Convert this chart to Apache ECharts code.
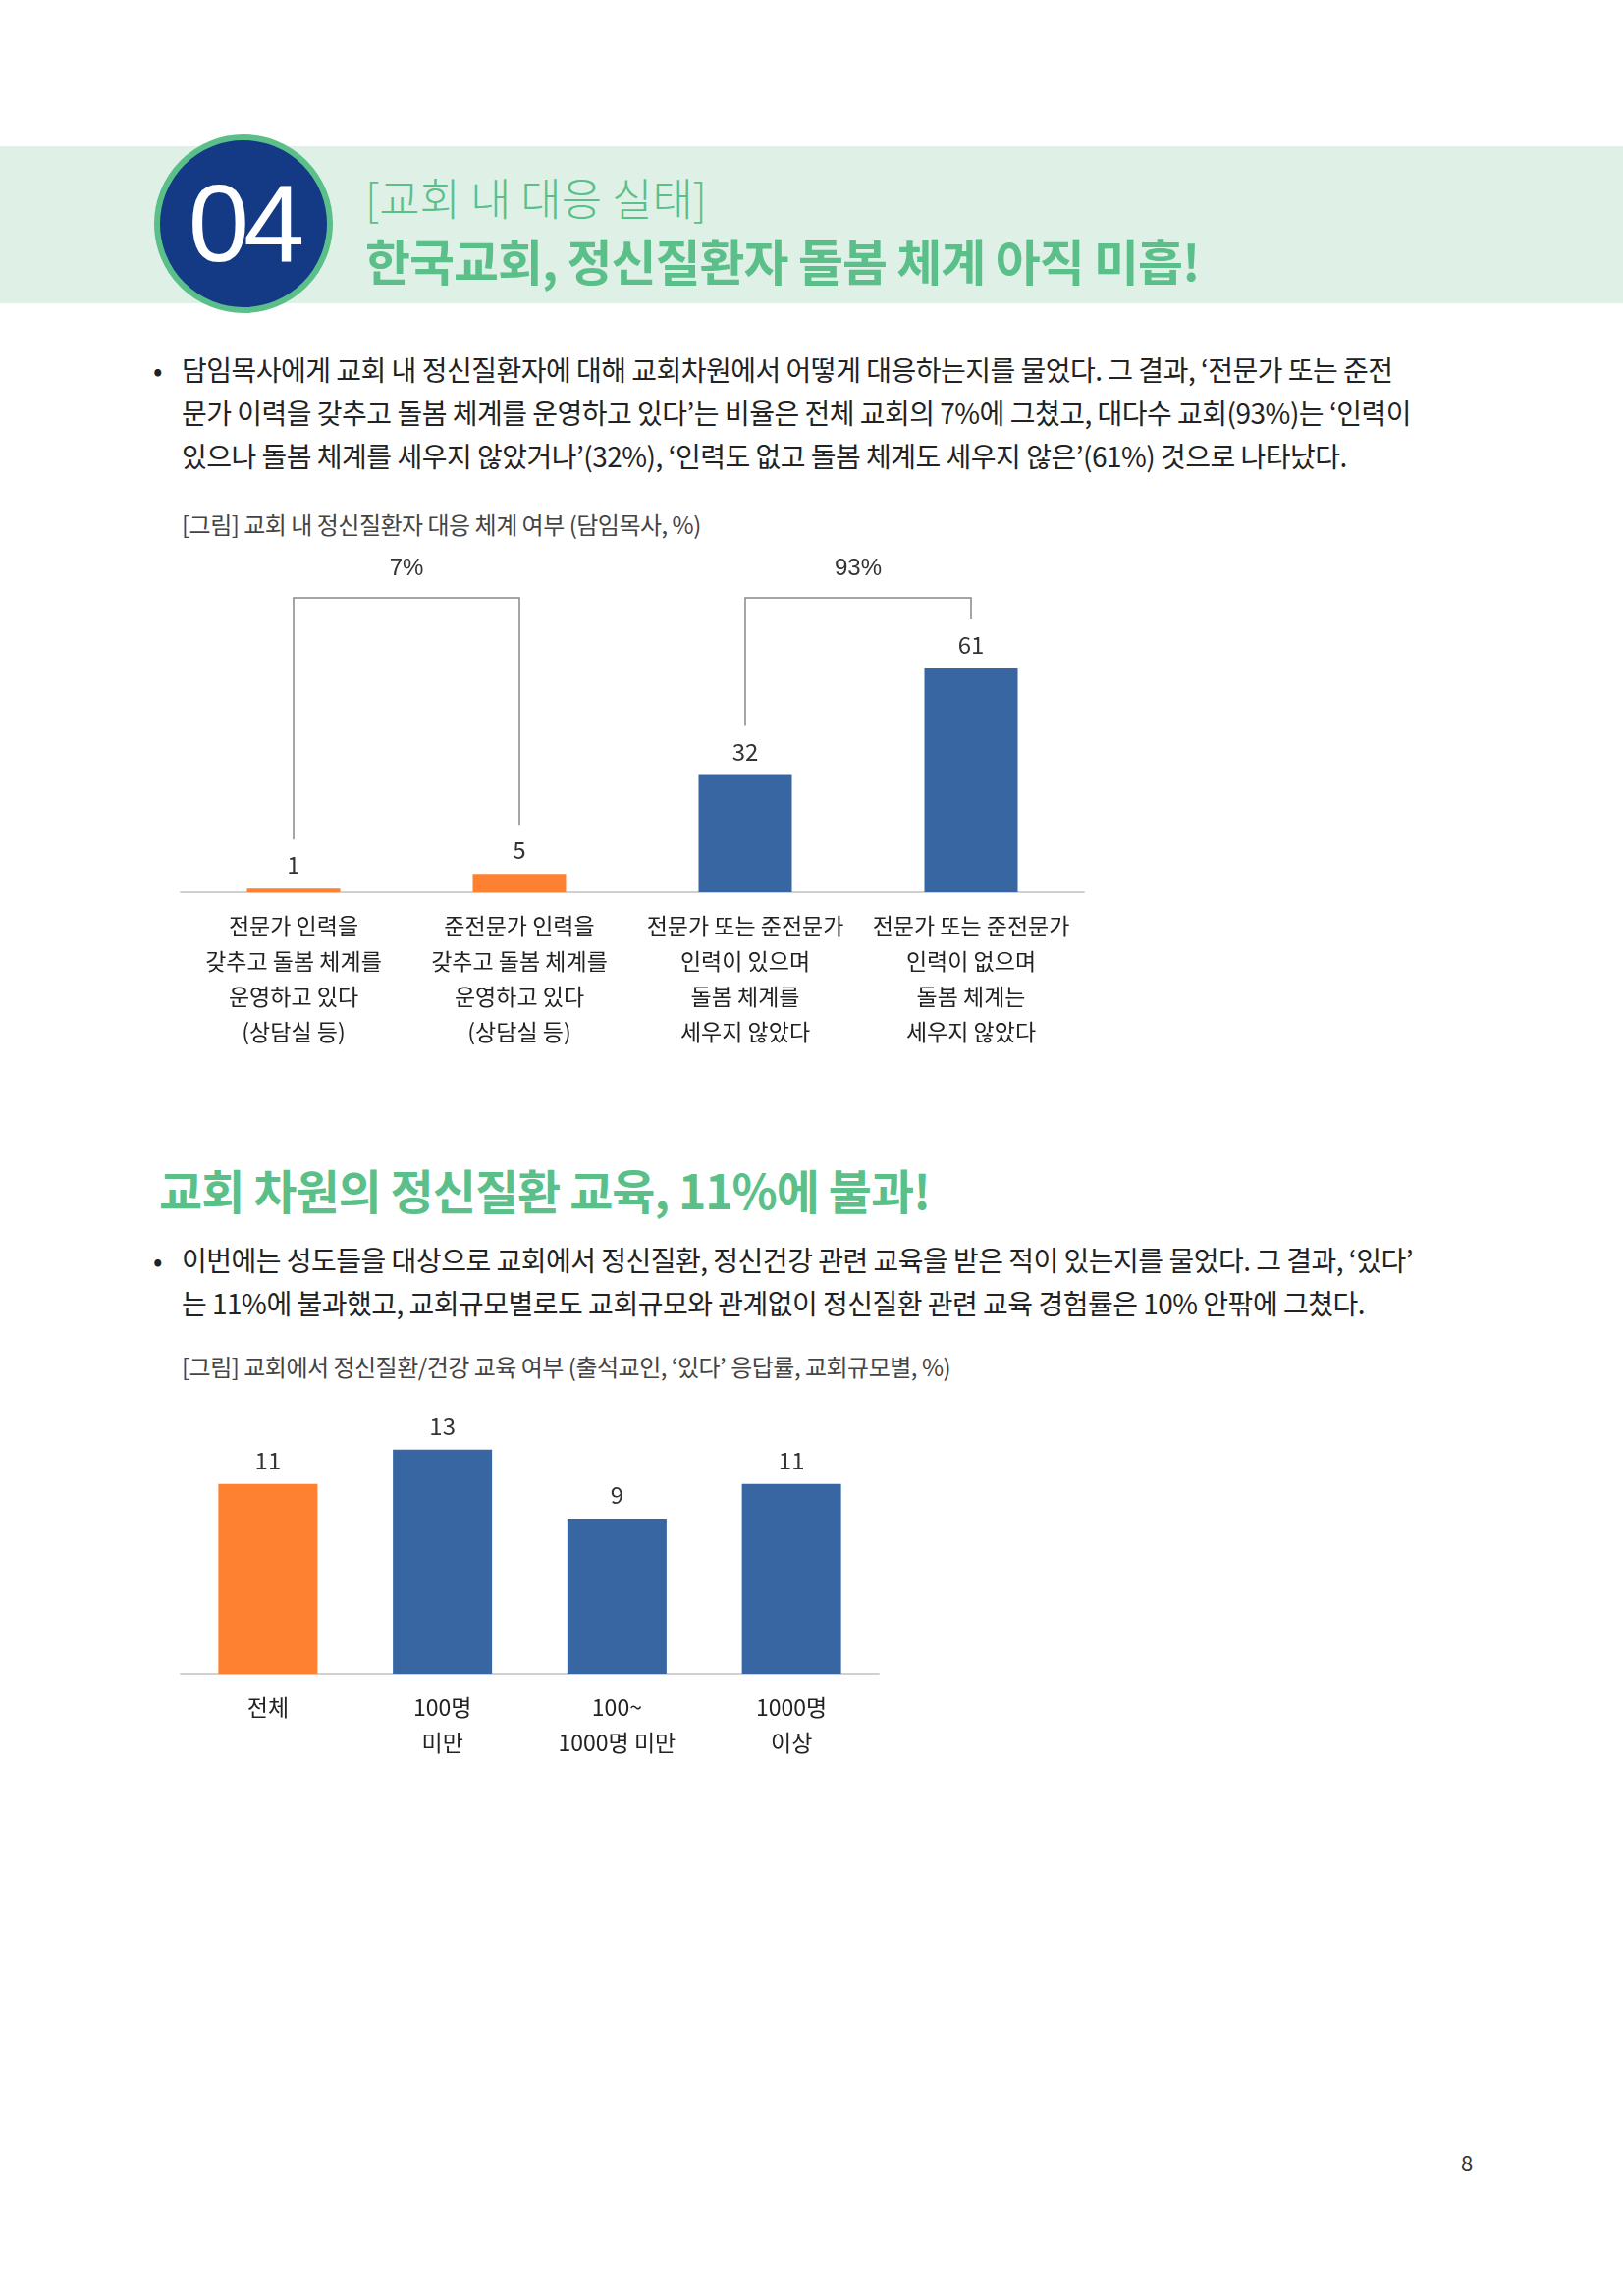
<!DOCTYPE html>
<html><head><meta charset="utf-8">
<script src="https://cdn.jsdelivr.net/npm/echarts@6/dist/echarts.min.js"></script>
<style>
body{margin:0;width:1653px;height:2339px;background:#fff;position:relative;font-family:"Noto Sans CJK KR",sans-serif;color:#222;overflow:hidden}
.t{position:absolute;white-space:nowrap}
.band{position:absolute;left:0;top:149px;width:1653px;height:160px;background:#dff0e6}
.circ{position:absolute;left:157px;top:137px;width:170px;height:170px;border-radius:50%;background:#143a86;border:6px solid #5bbf8a;color:#fff;font-family:"Liberation Sans Narrow","Liberation Sans",sans-serif;font-size:112px;line-height:170px;text-align:center;letter-spacing:-6px}
.body{font-size:28px;line-height:44px;color:#222;letter-spacing:-0.5px}
.cap{font-size:24px;color:#444;letter-spacing:-0.5px}
</style></head><body>
<div class="band"></div>
<div class="circ">04</div>
<div class="t" style="left:372px;top:168px;font-size:45px;font-weight:300;color:#5bbf8a">[교회 내 대응 실태]</div>
<div class="t" style="left:372px;top:228px;font-size:50px;font-weight:700;color:#5bbf8a;letter-spacing:-1px">한국교회, 정신질환자 돌봄 체계 아직 미흡!</div>
<div class="t body" style="left:156px;top:354px">•</div>
<div class="t body" style="left:185px;top:354px">담임목사에게 교회 내 정신질환자에 대해 교회차원에서 어떻게 대응하는지를 물었다. 그 결과, ‘전문가 또는 준전<br>문가 이력을 갖추고 돌봄 체계를 운영하고 있다’는 비율은 전체 교회의 7%에 그쳤고, 대다수 교회(93%)는 ‘인력이<br>있으나 돌봄 체계를 세우지 않았거나’(32%), ‘인력도 없고 돌봄 체계도 세우지 않은’(61%) 것으로 나타났다.</div>
<div class="t cap" style="left:185px;top:516px">[그림] 교회 내 정신질환자 대응 체계 여부 (담임목사, %)</div>
<div id="c1" style="position:absolute;left:0;top:540px;width:1200px;height:560px"></div>
<div class="t" style="left:162px;top:1176px;font-size:48px;font-weight:700;color:#5bbf8a;letter-spacing:-1px">교회 차원의 정신질환 교육, 11%에 불과!</div>
<div class="t body" style="left:156px;top:1261px">•</div>
<div class="t body" style="left:185px;top:1261px">이번에는 성도들을 대상으로 교회에서 정신질환, 정신건강 관련 교육을 받은 적이 있는지를 물었다. 그 결과, ‘있다’<br>는 11%에 불과했고, 교회규모별로도 교회규모와 관계없이 정신질환 관련 교육 경험률은 10% 안팎에 그쳤다.</div>
<div class="t cap" style="left:185px;top:1374px">[그림] 교회에서 정신질환/건강 교육 여부 (출석교인, ‘있다’ 응답률, 교회규모별, %)</div>
<div id="c2" style="position:absolute;left:0;top:1380px;width:1000px;height:450px"></div>
<div class="t" style="left:1488px;top:2186px;font-size:22px;color:#333">8</div>
<script>
var cats1 = ['전문가 인력을\n갖추고 돌봄 체계를\n운영하고 있다\n(상담실 등)', '준전문가 인력을\n갖추고 돌봄 체계를\n운영하고 있다\n(상담실 등)', '전문가 또는 준전문가\n인력이 있으며\n돌봄 체계를\n세우지 않았다', '전문가 또는 준전문가\n인력이 없으며\n돌봄 체계는\n세우지 않았다'];
var vals1 = [1, 5, 32, 61];
var colors1 = ['#fe8132', '#fe8132', '#3866a3', '#3866a3'];
var groupLabels = ['7%', '93%'];
var groups = [[0, 1], [2, 3]];

var cats2 = ['전체', '100명\n미만', '100~\n1000명 미만', '1000명\n이상'];
var vals2 = [11, 13, 9, 11];
var colors2 = ['#fe8132', '#3866a3', '#3866a3', '#3866a3'];

var font = '"Noto Sans CJK KR", sans-serif';
function barOpt(cats, vals, colors, grid, max, bw) {
    return {
        animation: false,
        grid: grid,
        xAxis: {type: 'category', data: cats,
            axisLine: {lineStyle: {color: '#d0d0d0', width: 2}},
            axisTick: {show: false},
            axisLabel: {color: '#222', fontSize: 23, lineHeight: 36, margin: 16, fontFamily: font, interval: 0}},
        yAxis: {type: 'value', min: 0, max: max, show: false},
        series: [{type: 'bar', barWidth: bw,
            data: vals.map(function (v, i) { return {value: v, itemStyle: {color: colors[i]}}; }),
            label: {show: true, position: 'top', distance: 12, color: '#333', fontSize: 24, fontFamily: font}}]
    };
}

var c1 = echarts.init(document.getElementById('c1'));
c1.setOption(barOpt(cats1, vals1, colors1, {left: 184, width: 920, top: 70, height: 299}, 80, 95));
// 괄호선
var topY = c1.convertToPixel({yAxisIndex: 0}, 0) - 300;
var g = [];
groups.forEach(function (gr, k) {
    var x0 = c1.convertToPixel({xAxisIndex: 0}, gr[0]);
    var x1 = c1.convertToPixel({xAxisIndex: 0}, gr[1]);
    var y0 = c1.convertToPixel({yAxisIndex: 0}, vals1[gr[0]]) - 50;
    var y1 = c1.convertToPixel({yAxisIndex: 0}, vals1[gr[1]]) - 50;
    g.push({type: 'polyline', shape: {points: [[x0, y0], [x0, topY], [x1, topY], [x1, y1]]},
        style: {stroke: '#888', lineWidth: 1.5, fill: null}});
    g.push({type: 'text', x: (x0 + x1) / 2, y: topY - 42,
        style: {text: groupLabels[k], fontSize: 24, fill: '#333', font: '24px ' + font, textAlign: 'center'}});
});
c1.setOption({graphic: g});

var c2 = echarts.init(document.getElementById('c2'));
c2.setOption(barOpt(cats2, vals2, colors2, {left: 184, width: 711, top: 44, height: 281}, 16, 101));
</script>
</body></html>
